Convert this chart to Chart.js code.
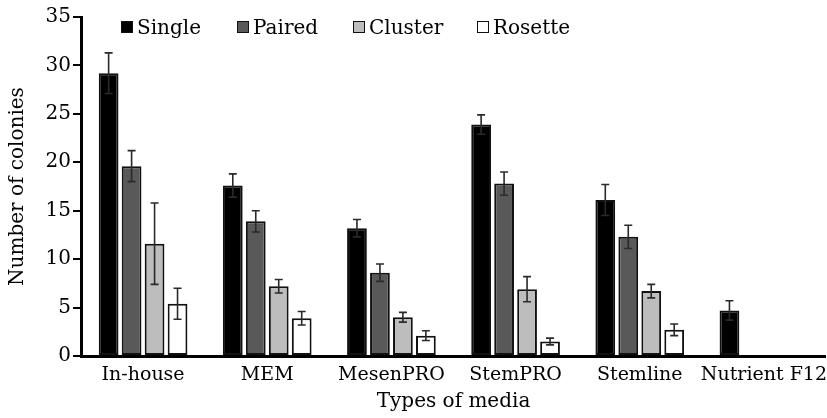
<!DOCTYPE html>
<html>
<head>
<meta charset="utf-8">
<script src="https://cdn.jsdelivr.net/npm/chart.js@4.4.1/dist/chart.umd.min.js"></script>
<style>
    html, body { margin: 0; padding: 0; background: #fff; }
    #wrap { position: relative; width: 827px; height: 418px; }
    #legend {
        position: absolute; left: 121px; top: 15px;
        display: flex;
        font-family: 'DejaVu Serif', serif; font-size: 20px; color: #000;
    }
    .item { display: flex; align-items: center; width: 116px; }
    .item:nth-child(3) { width: 124px; }
    .box { width: 10px; height: 10px; border: 1.5px solid #111; margin-right: 4px; }
</style>
</head>
<body>
<div id="wrap">
    <canvas id="chart" width="827" height="418"></canvas>
    <div id="legend"></div>
</div>
<script>
const categories = ['In-house', 'MEM', 'MesenPRO', 'StemPRO', 'Stemline', 'Nutrient F12'];
const seriesNames = ['Single', 'Paired', 'Cluster', 'Rosette'];
const seriesColors = ['#000000', '#595959', '#bdbdbd', '#ffffff'];

const singleValues  = [29.2, 17.6, 13.2, 23.9, 16.1, 4.7];
const singleErrors  = [2.1, 1.2, 0.9, 1.0, 1.6, 1.0];
const pairedValues  = [19.6, 13.9, 8.6, 17.8, 12.3, 0];
const pairedErrors  = [1.6, 1.1, 0.9, 1.2, 1.2, 0];
const clusterValues = [11.6, 7.2, 4.0, 6.9, 6.7, 0];
const clusterErrors = [4.2, 0.7, 0.5, 1.3, 0.7, 0];
const rosetteValues = [5.4, 3.9, 2.1, 1.5, 2.7, 0];
const rosetteErrors = [1.6, 0.7, 0.5, 0.35, 0.6, 0];

const yMax = 35;
const yStep = 5;

const allValues = [singleValues, pairedValues, clusterValues, rosetteValues];
const allErrors = [singleErrors, pairedErrors, clusterErrors, rosetteErrors];

Chart.defaults.font.family = "'DejaVu Serif', serif";
Chart.defaults.font.size = 20;
Chart.defaults.color = '#000';

// legend drawn as html so it can sit inside the plot area
const legendEl = document.getElementById('legend');
seriesNames.forEach((name, i) => {
    const item = document.createElement('div');
    item.className = 'item';
    const box = document.createElement('span');
    box.className = 'box';
    box.style.background = seriesColors[i];
    item.appendChild(box);
    item.appendChild(document.createTextNode(name));
    legendEl.appendChild(item);
});

const errorBars = {
    id: 'errorBars',
    afterDatasetsDraw(chart) {
        const ctx = chart.ctx;
        const yScale = chart.scales.y;
        ctx.save();
        ctx.strokeStyle = '#2a2a2a';
        ctx.lineWidth = 1.6;
        chart.data.datasets.forEach((ds, di) => {
            const meta = chart.getDatasetMeta(di);
            meta.data.forEach((bar, i) => {
                const v = ds.data[i];
                const e = allErrors[di][i];
                if (!v || !e) return;
                const yTop = yScale.getPixelForValue(v + e);
                const yBot = yScale.getPixelForValue(v - e);
                const x = bar.x;
                ctx.beginPath();
                ctx.moveTo(x, yTop); ctx.lineTo(x, yBot);
                ctx.moveTo(x - 4, yTop); ctx.lineTo(x + 4, yTop);
                ctx.moveTo(x - 4, yBot); ctx.lineTo(x + 4, yBot);
                ctx.stroke();
            });
        });
        ctx.restore();
    }
};

new Chart(document.getElementById('chart'), {
    type: 'bar',
    data: {
        labels: categories,
        datasets: seriesNames.map((name, i) => ({
            label: name,
            data: allValues[i],
            backgroundColor: seriesColors[i],
            borderColor: '#111',
            borderWidth: ctx => ctx.raw ? 2 : 0,
            borderSkipped: false,
            categoryPercentage: 0.74,
            barPercentage: 0.86
        }))
    },
    options: {
        responsive: false,
        animation: false,
        layout: { padding: { top: 17, right: 0, bottom: 0, left: 0 } },
        plugins: {
            legend: { display: false },
            tooltip: { enabled: false }
        },
        scales: {
            x: {
                grid: { display: false },
                border: { display: true, color: '#000', width: 3 },
                ticks: { padding: 0, maxRotation: 0, autoSkip: false, font: { size: 19 } },
                title: { display: true, text: 'Types of media', padding: { top: 0, bottom: 4 } },
                afterFit(scale) { scale.height = 62; }
            },
            y: {
                min: 0,
                max: yMax,
                ticks: { stepSize: yStep, padding: 2 },
                grid: { drawOnChartArea: false, drawTicks: true, tickLength: 8, color: '#000', lineWidth: 2 },
                border: { display: true, color: '#000', width: 3 },
                title: { display: true, text: 'Number of colonies', padding: { top: 6, bottom: 0 } },
                afterFit(scale) { scale.width = 81; }
            }
        }
    },
    plugins: [errorBars]
});
</script>
</body>
</html>
